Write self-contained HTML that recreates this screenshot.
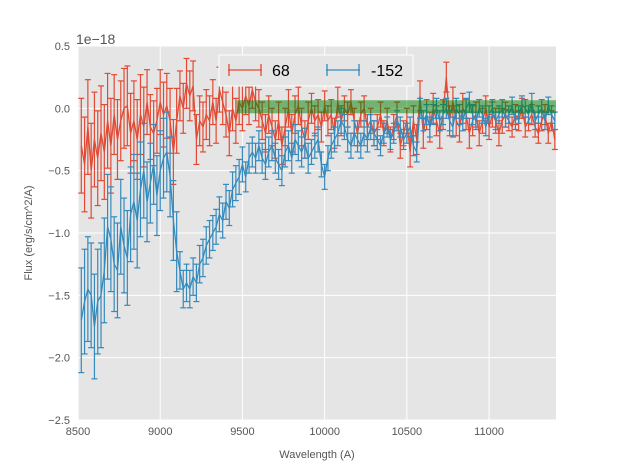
<!DOCTYPE html>
<html><head><meta charset="utf-8"><style>
body{margin:0;background:#fff;position:relative;}
svg text{font-family:"Liberation Sans",sans-serif;}
</style></head><body>
<svg id="c" width="617" height="467"></svg>
<script>
const xTicks=[8500,9000,9500,10000,10500,11000];
const yTicks=[0.5,0.0,-0.5,-1.0,-1.5,-2.0,-2.5];
const yTickLabels=["0.5","0.0","\u22120.5","\u22121.0","\u22121.5","\u22122.0","\u22122.5"];
const wlStart=8520, wlStep=20;
const red68=[-0.3,-0.45,-0.15,-0.5,-0.25,-0.4,-0.2,-0.35,-0.1,-0.3,
-0.05,-0.25,-0.1,0.0,0.02,-0.2,-0.1,-0.25,-0.05,-0.15,
0.05,-0.15,-0.2,-0.1,0.05,-0.05,0.02,-0.1,-0.35,-0.1,
0.1,0.0,0.2,0.1,0.18,-0.25,-0.1,-0.15,-0.05,-0.1,
0.05,-0.1,0.15,0.05,-0.05,-0.2,0.0,-0.1,0.05,0.0,
0.1,0.02,0.15,0.05,0.0,-0.1,-0.2,-0.05,-0.15,-0.25,
-0.1,-0.3,-0.15,0.0,-0.2,-0.05,0.02,-0.15,-0.25,-0.1,
0.0,-0.1,-0.05,-0.15,0.02,-0.1,-0.05,-0.2,0.05,-0.1,
0.0,-0.05,0.05,-0.1,-0.2,-0.05,0.0,-0.15,-0.1,-0.2,
-0.15,-0.05,-0.2,-0.1,-0.25,-0.15,-0.05,-0.3,-0.2,-0.1,
-0.35,-0.1,-0.25,0.1,-0.2,-0.05,-0.15,0.0,-0.1,-0.2,
-0.05,0.25,-0.1,0.05,-0.1,-0.15,0.0,-0.05,-0.2,-0.1,
-0.05,-0.2,-0.1,0.0,-0.15,-0.05,-0.1,-0.2,-0.1,-0.05,
-0.1,-0.15,-0.05,-0.1,0.0,-0.15,-0.1,-0.05,-0.15,-0.2,
-0.1,-0.05,-0.2,-0.1,-0.25];
const blue152=[-1.7,-1.55,-1.45,-1.5,-1.75,-1.55,-1.5,-1.3,-0.95,-1.05,
-1.25,-1.3,-0.95,-1.1,-1.2,-0.85,-0.75,-0.9,-0.65,-0.5,
-0.75,-0.6,-0.45,-0.7,-0.5,-0.4,-0.35,-0.55,-0.9,-1.15,
-1.3,-1.45,-1.4,-1.45,-1.35,-1.4,-1.25,-1.2,-1.1,-1.05,
-1.0,-0.95,-0.85,-0.9,-0.75,-0.8,-0.65,-0.6,-0.55,-0.45,
-0.55,-0.4,-0.35,-0.4,-0.3,-0.4,-0.45,-0.35,-0.3,-0.4,
-0.45,-0.5,-0.35,-0.3,-0.4,-0.25,-0.3,-0.35,-0.28,-0.4,
-0.35,-0.3,-0.25,-0.45,-0.55,-0.4,-0.3,-0.25,-0.2,-0.1,
-0.15,-0.25,-0.3,-0.2,-0.25,-0.3,-0.2,-0.25,-0.15,-0.2,
-0.25,-0.3,-0.2,-0.15,-0.25,-0.2,-0.1,-0.15,-0.25,-0.2,
-0.15,-0.3,-0.35,0.0,-0.1,-0.05,-0.15,-0.05,0.0,-0.1,
-0.05,0.0,-0.1,-0.15,0.0,-0.05,-0.1,0.0,0.05,-0.05,
-0.1,0.0,-0.05,-0.15,-0.05,0.0,-0.1,-0.05,0.0,-0.08,
-0.05,0.02,-0.1,-0.05,0.03,0.0,-0.05,0.05,-0.1,-0.05,
0.0,-0.1,0.02,-0.05,-0.1];
const redErrBlocks=[0.38,0.32,0.26,0.2,0.18,0.15,0.15,0.12,0.1,0.1,0.12,0.12,0.1,0.08,0.08];
const blueErrBlocks=[0.42,0.38,0.32,0.15,0.14,0.12,0.12,0.1,0.1,0.08,0.08,0.08,0.07,0.07,0.07];
const band=[9465,11407,0.065,-0.04];

const L=78,R=556,T=46,B=420,X0=8500,X1=11407,Y0=-2.5,Y1=0.5;
const xs=v=>L+(v-X0)/(X1-X0)*(R-L);
const ys=v=>B-(v-Y0)/(Y1-Y0)*(B-T);
const svg=document.getElementById('c');const NS='http://www.w3.org/2000/svg';
function mk(t,a,p){const e=document.createElementNS(NS,t);for(const k in a)e.setAttribute(k,a[k]);(p||svg).appendChild(e);return e;}
const bg=mk('rect',{x:L,y:T,width:R-L,height:B-T,fill:'#E5E5E5'});


xTicks.forEach(t=>{const x=xs(t);
mk('line',{x1:x,x2:x,y1:T,y2:B,stroke:'#fff','stroke-width':1});
const tx=mk('text',{x:x,y:B+15,'text-anchor':'middle','font-size':11,fill:'#555'});tx.textContent=t;

});
yTicks.forEach((t,i)=>{const y=ys(t);
mk('line',{x1:L,x2:R,y1:y,y2:y,stroke:'#fff','stroke-width':1});
const tx=mk('text',{x:L-8,y:y+4,'text-anchor':'end','font-size':11,fill:'#555'});tx.textContent=yTickLabels[i];

});
function series(vals,errs,color,name){
const g=mk('g',{});


let d='';
vals.forEach((v,i)=>{const x=xs(wlStart+i*wlStep);const e=errs[Math.floor(i/10)];
const y1=ys(v+e),y2=ys(v-e);
mk('line',{x1:x,x2:x,y1:y1,y2:y2,stroke:color,'stroke-width':1.2},g);
mk('line',{x1:x-3,x2:x+3,y1:y1,y2:y1,stroke:color,'stroke-width':1.2},g);
mk('line',{x1:x-3,x2:x+3,y1:y2,y2:y2,stroke:color,'stroke-width':1.2},g);
d+=(i?'L':'M')+x.toFixed(1)+' '+ys(v).toFixed(1);});
mk('path',{d:d,fill:'none',stroke:color,'stroke-width':1.3},g);}
series(red68,redErrBlocks,'#E24A33','series-68');
series(blue152,blueErrBlocks,'#348ABD','series-minus-152');
const bd=mk('rect',{x:xs(band[0]),y:ys(band[2]),width:xs(band[1])-xs(band[0]),height:ys(band[3])-ys(band[2]),fill:'rgba(0,128,0,0.5)'});


</script>
<svg width="617" height="467" style="position:absolute;left:0;top:0">
<text x="76" y="44" font-size="14" fill="#555">1e−18</text>
<text x="317" y="458" font-size="11" fill="#555" text-anchor="middle">Wavelength (A)</text>
<text x="0" y="0" font-size="11" fill="#555" text-anchor="middle" transform="translate(32,233) rotate(-90)">Flux (erg/s/cm^2/A)</text>
<g>
<rect x="219" y="55" width="194" height="31" fill="#E5E5E5" stroke="#fff" stroke-width="1"/>
<g stroke="#E24A33" stroke-width="1.3">
<line x1="228" x2="262" y1="70" y2="70"/><line x1="229" x2="229" y1="64" y2="76"/><line x1="261" x2="261" y1="64" y2="76"/></g>
<text x="272" y="76" font-size="16" fill="#000">68</text>
<g stroke="#348ABD" stroke-width="1.3">
<line x1="326" x2="360" y1="70" y2="70"/><line x1="327" x2="327" y1="64" y2="76"/><line x1="359" x2="359" y1="64" y2="76"/></g>
<text x="371" y="76" font-size="16" fill="#000">-152</text>
</g>
</svg>
</body></html>
